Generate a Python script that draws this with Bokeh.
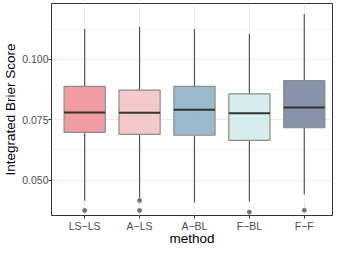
from bokeh.plotting import figure
from bokeh.models import Range1d, FixedTicker, ColumnDataSource
from bokeh.embed import file_html
from bokeh.resources import INLINE

methods = ["LS\u2212LS", "A\u2212LS", "A\u2212BL", "F\u2212BL", "F\u2212F"]
whisker_low = [0.0415, 0.0427, 0.0408, 0.0413, 0.0442]
q1 = [0.0698, 0.0690, 0.0686, 0.0665, 0.0717]
median = [0.0780, 0.0779, 0.0791, 0.0777, 0.0801]
q3 = [0.0888, 0.0873, 0.0888, 0.0857, 0.0912]
whisker_high = [0.1126, 0.1135, 0.1125, 0.1106, 0.1188]
outlier_method = [1, 2, 2, 4, 5]
outlier_value = [0.0375, 0.0416, 0.0375, 0.0368, 0.0376]
colors = ["#F0929A", "#F4C4C6", "#92B3C9", "#D2EBEB", "#7D8AA1"]
y_ticks = [0.050, 0.075, 0.100]
y_minor = [0.0375, 0.0625, 0.0875, 0.1125]
x_title = "method"
y_title = "Integrated Brier Score"

xpos = list(range(1, len(methods) + 1))

p = figure(width=333, height=248, output_backend="svg", toolbar_location=None,
           x_range=Range1d(0.396, 5.514), y_range=Range1d(0.0354, 0.1231),
           min_border_left=50, min_border_right=1, min_border_top=3, min_border_bottom=0)

p.background_fill_color = "white"
p.border_fill_color = "white"
p.outline_line_color = "#333333"
p.outline_line_width = 1

p.xgrid.ticker = FixedTicker(ticks=xpos)
p.ygrid.ticker = FixedTicker(ticks=y_ticks, minor_ticks=y_minor)
p.xgrid.grid_line_color = "#EBEBEB"
p.ygrid.grid_line_color = "#EBEBEB"
p.ygrid.minor_grid_line_color = "#F5F5F5"

src = ColumnDataSource(dict(x=xpos, lo=whisker_low, q1=q1, med=median, q3=q3,
                            hi=whisker_high, color=colors))

p.segment(x0="x", y0="q3", x1="x", y1="hi", source=src, line_color="#555555", line_width=1.2)
p.segment(x0="x", y0="lo", x1="x", y1="q1", source=src, line_color="#555555", line_width=1.2)
p.vbar(x="x", width=0.75, bottom="q1", top="q3", source=src, fill_color="color",
       fill_alpha=0.92, line_color="#8C8C8C", line_width=1.2)
p.segment(x0=[x - 0.375 for x in xpos], y0=median, x1=[x + 0.375 for x in xpos], y1=median,
          line_color="#333333", line_width=2)
p.scatter(x=outlier_method, y=outlier_value, size=4, color="#777777")

p.xaxis.ticker = FixedTicker(ticks=xpos)
p.xaxis.major_label_overrides = {x: m for x, m in zip(xpos, methods)}
p.yaxis.ticker = FixedTicker(ticks=y_ticks)
p.yaxis.major_label_overrides = {0.05: "0.050", 0.075: "0.075", 0.1: "0.100"}
p.xaxis.axis_label = x_title
p.yaxis.axis_label = y_title
for ax in (p.xaxis[0], p.yaxis[0]):
    ax.axis_line_color = None
    ax.major_tick_line_color = "#333333"
    ax.major_tick_out = 3
    ax.major_tick_in = 0
    ax.minor_tick_line_color = None
    ax.major_label_text_font = "Liberation Sans"
    ax.major_label_text_font_size = "10.5px"
    ax.major_label_text_color = "#4D4D4D"
    ax.axis_label_text_font = "Liberation Sans"
    ax.axis_label_text_font_size = "13.5px"
    ax.axis_label_text_font_style = "normal"
    ax.axis_label_text_color = "black"
p.xaxis[0].major_label_standoff = 1
p.xaxis[0].axis_label_standoff = -4
p.yaxis[0].major_label_standoff = 0
p.yaxis[0].axis_label_standoff = 1

open("out.html", "w").write(file_html(p, INLINE))
